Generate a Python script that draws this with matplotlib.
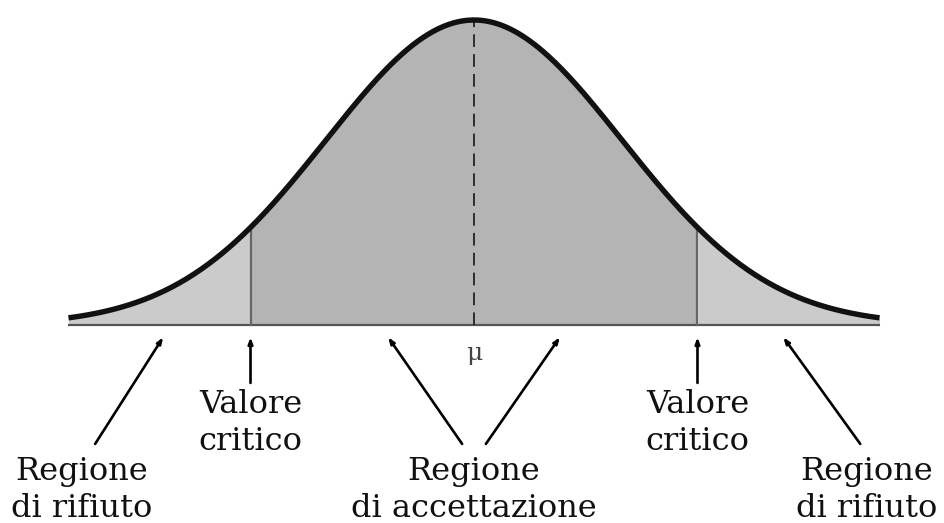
import numpy as np
import matplotlib
matplotlib.use("Agg")
import matplotlib.pyplot as plt

# curve in standard units (z), height scaled so the peak is 1
z_lim = 2.74          # where the drawn curve stops on both sides
crit = 1.51           # critical values at -crit and +crit
mu_label = "\u03bc"

# text labels: (text, x, y)
labels = [
    ("Regione\ndi rifiuto", -2.65, -0.54),
    ("Valore\ncritico", -1.51, -0.322),
    ("Regione\ndi accettazione", 0.0, -0.54),
    ("Valore\ncritico", 1.51, -0.322),
    ("Regione\ndi rifiuto", 2.65, -0.54),
]

# pointer lines: (tail x, tail y, head x, head y)
pointers = [
    (-2.56, -0.39, -2.10, -0.04),
    (-1.51, -0.19, -1.51, -0.04),
    (-0.08, -0.39, -0.58, -0.04),
    (0.08, -0.39, 0.58, -0.04),
    (1.51, -0.19, 1.51, -0.04),
    (2.61, -0.39, 2.09, -0.04),
]

light = "#cbcbcb"
mid = "#b4b4b4"


def dens(x):
    return np.exp(-x ** 2 / 2)


fig = plt.figure(figsize=(9.44, 5.23), dpi=100)
ax = fig.add_axes([0, 0, 1, 1])
ax.set_xlim(-474 / 148, 470 / 148)
ax.set_ylim(-198 / 305, 325 / 305)
ax.axis("off")

x = np.linspace(-z_lim, z_lim, 800)
y = dens(x)

left = x <= -crit
right = x >= crit
middle = (x >= -crit) & (x <= crit)
ax.fill_between(x, 0, y, where=left, color=light, lw=0)
ax.fill_between(x, 0, y, where=right, color=light, lw=0)
ax.fill_between(x, 0, y, where=middle, color=mid, lw=0)

ax.plot([-z_lim, z_lim], [0, 0], color="#555555", lw=1.6, solid_capstyle="butt")
for c in (-crit, crit):
    ax.plot([c, c], [0, dens(c)], color="#666666", lw=1.6)
ax.plot([0, 0], [0, 1], color="#222222", lw=1.3, dashes=(7, 4))
ax.plot(x, y, color="#111111", lw=3.9, solid_capstyle="butt")

ax.text(0, -0.095, mu_label, ha="center", va="center", fontsize=18,
        family="DejaVu Serif", color="#444444")

for tx, ty, hx, hy in pointers:
    ax.annotate("", xy=(hx, hy), xytext=(tx, ty),
                arrowprops=dict(arrowstyle="-|>,head_length=0.35,head_width=0.13",
                                color="black", lw=1.9, shrinkA=0, shrinkB=0))

for txt, tx, ty in labels:
    ax.text(tx, ty, txt, ha="center", va="center", fontsize=23,
            family="DejaVu Serif", linespacing=1.25, color="#111111")

fig.savefig("out.png", dpi=100)
